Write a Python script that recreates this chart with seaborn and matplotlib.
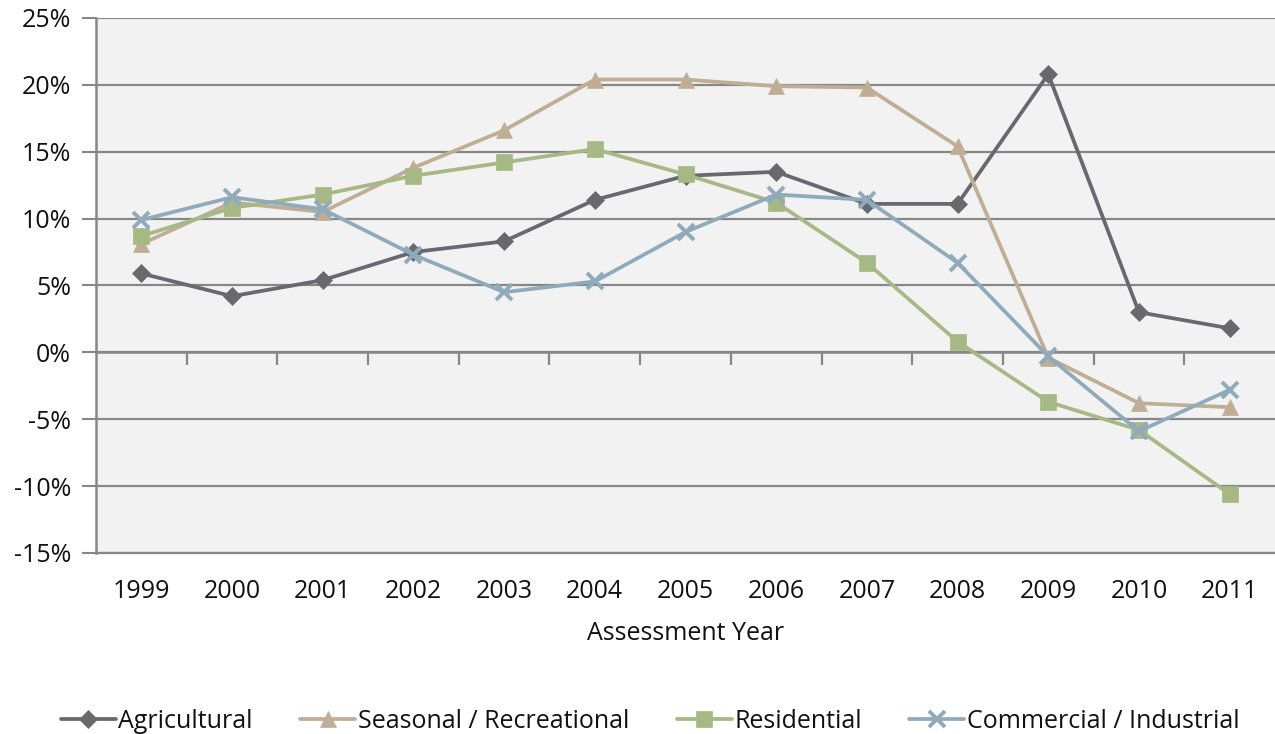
import matplotlib
matplotlib.use("Agg")
import matplotlib.pyplot as plt
import seaborn as sns
import pandas as pd
from matplotlib.ticker import FuncFormatter, FixedLocator

years = ["1999", "2000", "2001", "2002", "2003", "2004", "2005",
         "2006", "2007", "2008", "2009", "2010", "2011"]

agricultural = [5.9, 4.2, 5.4, 7.5, 8.3, 11.4, 13.2, 13.5, 11.1, 11.1, 20.8, 3.0, 1.8]
seasonal = [8.1, 11.2, 10.5, 13.8, 16.6, 20.4, 20.4, 19.9, 19.8, 15.4, -0.4, -3.8, -4.1]
residential = [8.7, 10.8, 11.8, 13.2, 14.2, 15.2, 13.3, 11.2, 6.7, 0.8, -3.7, -5.8, -10.6]
commercial = [9.9, 11.6, 10.7, 7.3, 4.5, 5.3, 9.0, 11.8, 11.4, 6.7, -0.3, -5.9, -2.8]

series_names = ["Agricultural", "Seasonal / Recreational", "Residential",
                "Commercial / Industrial"]
series_values = [agricultural, seasonal, residential, commercial]
colors = ["#68686E", "#BFAE95", "#A6B985", "#8FAABB"]
markers = ["D", "^", "s", "x"]
marker_sizes = [9, 11, 11, 11]

sns.set_theme(style="white")
plt.rcParams["font.family"] = ["Open Sans", "DejaVu Sans"]

rows = []
for name, vals in zip(series_names, series_values):
    for i, v in enumerate(vals):
        rows.append({"series": name, "pos": i, "value": v})
df = pd.DataFrame(rows)

fig = plt.figure(figsize=(12.75, 7.34), dpi=100)
ax = fig.add_axes([0.0753, 0.2466, 0.9247, 0.7289])
ax.set_facecolor("#F2F2F2")

grid_c = "#878787"
text_c = "#111111"
fs = 18
for name, col, mk, ms in zip(series_names, colors, markers, marker_sizes):
    sub = df[df["series"] == name]
    sns.lineplot(data=sub, x="pos", y="value", ax=ax, color=col, linewidth=2.7,
                 marker=mk, markersize=ms, markeredgecolor=col,
                 markeredgewidth=2.8 if mk == "x" else 0.5, label=name,
                 zorder=3)

ax.set_xlim(-0.5, len(years) - 0.5)
ax.set_ylim(-15, 25)
ax.set_yticks(range(-15, 30, 5))
ax.yaxis.set_major_formatter(FuncFormatter(lambda v, p: f"{int(v)}%"))
ax.set_xticks(range(len(years)))
ax.set_xticklabels(years)
ax.tick_params(axis="x", length=0, pad=19, labelsize=fs, labelcolor=text_c)
ax.tick_params(axis="y", length=10, width=1.5, color=grid_c, direction="out",
               pad=8, labelsize=fs, labelcolor=text_c, left=True)

ax.grid(axis="y", color=grid_c, linewidth=1.6, zorder=1)
ax.set_axisbelow(True)
for s in ["top", "right"]:
    ax.spines[s].set_visible(False)
ax.spines["left"].set_color(grid_c)
ax.spines["left"].set_linewidth(1.8)
ax.spines["bottom"].set_color(grid_c)
ax.spines["bottom"].set_linewidth(1.6)

# category axis crossing at 0%
zero_frac = (0 - (-15)) / 40
sec = ax.secondary_xaxis(zero_frac)
sec.xaxis.set_major_locator(FixedLocator([i + 0.5 for i in range(len(years) - 1)]))
sec.tick_params(axis="x", direction="out", length=9, width=1.6, color=grid_c,
                labelbottom=False, labeltop=False, bottom=True, top=False)
sec.spines["bottom"].set_color(grid_c)
sec.spines["bottom"].set_linewidth(1.8)
for s in ["top", "left", "right"]:
    sec.spines[s].set_visible(False)

ax.set_xlabel("Assessment Year", fontsize=fs, color=text_c, labelpad=12)
ax.set_ylabel("")

ax.legend(loc="upper center", bbox_to_anchor=(0.47, -0.25), ncol=4,
          frameon=False, fontsize=fs, handlelength=2.2, handletextpad=0.1,
          columnspacing=1.9, labelcolor=text_c)

fig.savefig("out.png", dpi=100)
